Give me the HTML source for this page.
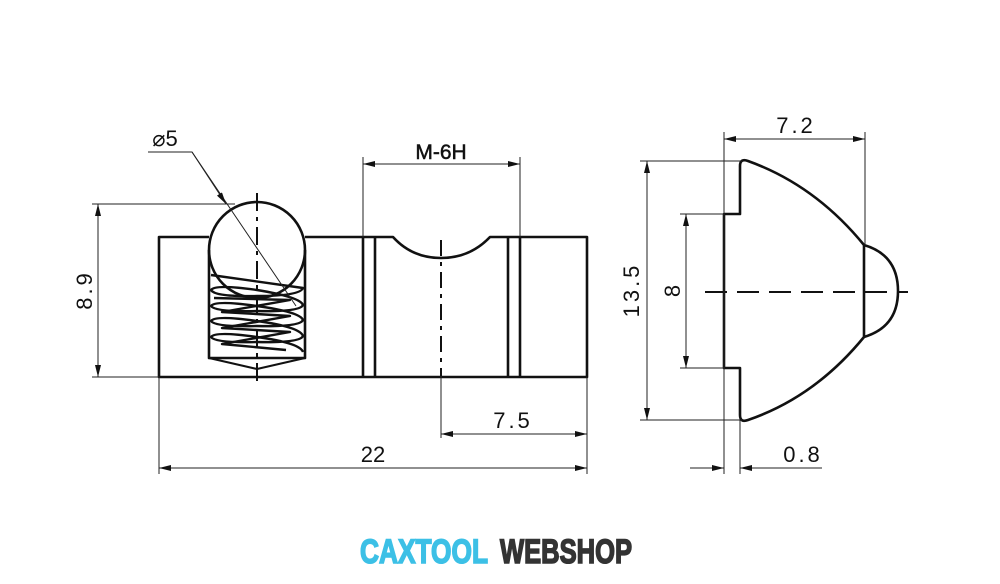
<!DOCTYPE html>
<html><head><style>body{margin:0;background:#fff}svg{display:block}</style></head><body>
<svg width="1000" height="584" viewBox="0 0 1000 584" xmlns="http://www.w3.org/2000/svg">
<defs>
<marker id="a" viewBox="0 0 12 6" refX="12" refY="3" markerWidth="12" markerHeight="6" orient="auto-start-reverse" markerUnits="userSpaceOnUse"><path d="M0,0 L12,3 L0,6 Z" fill="#111"/></marker>
</defs>
<rect width="1000" height="584" fill="#fff"/>
<g fill="none" stroke="#111" stroke-width="2.6" stroke-linejoin="round">
<path d="M209,237 L159,237 L159,377 L587,377 L587,237 L490,237 Q470,258 441,258 Q412,258 393,237 L305,237"/>
<line x1="363" y1="237" x2="363" y2="377"/><line x1="375" y1="237" x2="375" y2="377"/>
<line x1="508" y1="237" x2="508" y2="377"/><line x1="520" y1="237" x2="520" y2="377"/>
<circle cx="257" cy="250" r="48"/>
<path d="M209,250 L209,358 L305,358 L305,250"/>
<path d="M209,358 L257,369 L305,358" stroke-width="2"/>
<g stroke-width="2.4">
<path d="M211,275 Q260,282 303,288 Q300,296 257,296 Q215,297 211,290 Q215,284 257,290 Q300,297 303,305 Q300,312 257,311 Q215,312 211,306 Q215,300 257,306 Q300,312 303,320 Q300,327 257,326 Q215,327 211,321 Q215,315 257,321 Q300,327 303,336 Q300,343 257,342 Q215,343 211,337 Q215,331 257,337 Q300,343 303,352"/>
<polyline points="214,298 290,300 222,312 290,316 222,328 290,332 222,344 286,350"/>
</g>
<path d="M724,214 L740,214 L740,166 Q740,158 748,161 Q815,185 864,245 L864,337 Q815,397 748,420 Q740,423 740,415 L740,368 L724,368 Z"/>
<path d="M864,245 Q898,255 898,291 Q898,327 864,337"/>
</g>
<g fill="none" stroke="#111" stroke-width="2">
<line x1="257" y1="193" x2="257" y2="386" stroke-dasharray="18,6,4,6"/>
<line x1="441" y1="240" x2="441" y2="376" stroke-dasharray="16,6,4,6"/>
<line x1="705" y1="292" x2="908" y2="292" stroke-dasharray="22,10"/>
</g>
<g fill="none" stroke="#222" stroke-width="1">
<line x1="363" y1="157" x2="363" y2="237"/><line x1="520" y1="157" x2="520" y2="237"/>
<line x1="363" y1="164" x2="520" y2="164" marker-start="url(#a)" marker-end="url(#a)"/>
<line x1="92" y1="204" x2="235" y2="204"/><line x1="92" y1="377" x2="159" y2="377"/>
<line x1="98" y1="204" x2="98" y2="377" marker-start="url(#a)" marker-end="url(#a)"/>
<line x1="159" y1="377" x2="159" y2="474"/><line x1="587" y1="377" x2="587" y2="474"/>
<line x1="441" y1="376" x2="441" y2="438"/>
<line x1="159" y1="468" x2="587" y2="468" marker-start="url(#a)" marker-end="url(#a)"/>
<line x1="441" y1="434" x2="587" y2="434" marker-start="url(#a)" marker-end="url(#a)"/>
<polyline points="148,152 192,152 296,306"/>
<line x1="192" y1="152" x2="226" y2="204" marker-end="url(#a)"/>
<line x1="724" y1="132" x2="724" y2="474"/><line x1="865" y1="132" x2="865" y2="245"/>
<line x1="724" y1="139" x2="865" y2="139" marker-start="url(#a)" marker-end="url(#a)"/>
<line x1="640" y1="161" x2="742" y2="161"/><line x1="640" y1="420" x2="742" y2="420"/>
<line x1="647" y1="161" x2="647" y2="420" marker-start="url(#a)" marker-end="url(#a)"/>
<line x1="680" y1="214" x2="724" y2="214"/><line x1="680" y1="368" x2="724" y2="368"/>
<line x1="686" y1="214" x2="686" y2="368" marker-start="url(#a)" marker-end="url(#a)"/>
<line x1="740" y1="420" x2="740" y2="474"/>
<line x1="690" y1="468" x2="724" y2="468" marker-end="url(#a)"/>
<line x1="822" y1="468" x2="740" y2="468" marker-end="url(#a)"/>
</g>
<g font-family="Liberation Sans, DejaVu Sans, sans-serif" font-size="22" fill="#111" text-anchor="middle">
<text x="441" y="159" font-size="21" stroke="#111" stroke-width="0.5">M-6H</text>
<text x="165" y="146">⌀5</text>
<text x="373" y="462">22</text>
<text x="513" y="428" letter-spacing="3">7.5</text>
<text x="796" y="133" letter-spacing="3">7.2</text>
<text x="803" y="462" letter-spacing="3">0.8</text>
<text transform="translate(92,290) rotate(-90)" letter-spacing="3">8.9</text>
<text transform="translate(639,290) rotate(-90)" letter-spacing="3">13.5</text>
<text transform="translate(680,291) rotate(-90)">8</text>
</g>
<g font-family="Liberation Sans, sans-serif" font-weight="bold" font-size="34" stroke-width="1.6">
<text x="360" y="563" fill="#3cc0e6" stroke="#3cc0e6" textLength="128" lengthAdjust="spacingAndGlyphs">CAXTOOL</text>
<text x="500" y="563" fill="#333" stroke="#333" textLength="132" lengthAdjust="spacingAndGlyphs">WEBSHOP</text>
</g>
</svg>
</body></html>
